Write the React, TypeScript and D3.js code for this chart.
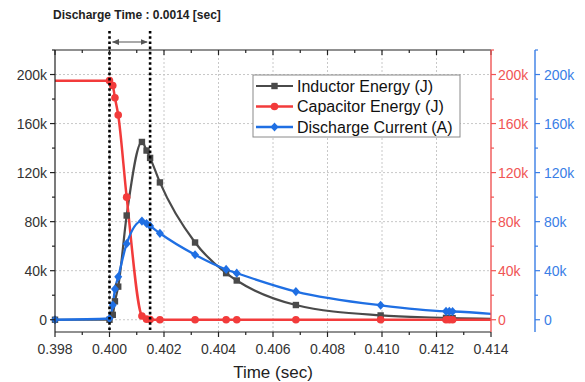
import React from "react";
import * as d3 from "d3";

const times = [0.398, 0.4, 0.40012, 0.4002, 0.40032, 0.40063, 0.40119, 0.40136, 0.40149, 0.40185, 0.40314, 0.40428, 0.40467, 0.40684, 0.40995, 0.41235, 0.41247, 0.41259, 0.415];
const capacitorTimes = [0.397, 0.4, 0.40012, 0.4002, 0.40032, 0.40063, 0.40119, 0.40136, 0.40149, 0.40185, 0.40314, 0.40428, 0.40467, 0.40684, 0.40995, 0.41235, 0.41247, 0.41259, 0.415];
const inductorEnergy = [0, 0, 4000, 15000, 27000, 85000, 145000, 138000, 132000, 112000, 63000, 38000, 32000, 12000, 3500, 1500, 1400, 1300, 600];
const capacitorEnergy = [195000, 195000, 191000, 181000, 167000, 100000, 3000, 500, 200, 0, 0, 0, 0, 0, 0, 0, 0, 0, 0];
const dischargeCurrent = [0, 1000, 12000, 25000, 35000, 62000, 80500, 78500, 76500, 70500, 53000, 41000, 38000, 23000, 11800, 6900, 6800, 6700, 3000];

const xTicks = [0.398, 0.4, 0.402, 0.404, 0.406, 0.408, 0.41, 0.412, 0.414];
const xMinor = [0.399, 0.401, 0.403, 0.405, 0.407, 0.409, 0.411, 0.413];
const yTicks = [0, 40000, 80000, 120000, 160000, 200000];
const yMinor = [20000, 60000, 100000, 140000, 180000, 220000];
const dischargeStart = 0.4;
const dischargeEnd = 0.40149;

const seriesNames = ["Inductor Energy (J)", "Capacitor Energy (J)", "Discharge Current (A)"];
const GRAY = "#4a4a4a";
const RED = "#f23b3b";
const BLUE = "#1f6fe3";
const RED_AXIS = "#f05555";
const BLUE_AXIS = "#3a7ee6";

const W = 585, H = 382;
const L = 55, R = 491, T = 50, B = 332;
const BLUE_X = 535;
const FONT = "'Liberation Sans', Arial, sans-serif";

const fmt = (v: number) => (v === 0 ? "0" : `${v / 1000}k`);

function Marker({ kind, x, y, color }: { kind: number; x: number; y: number; color: string }) {
  if (kind === 0) return <rect x={x - 3.2} y={y - 3.2} width={6.4} height={6.4} fill={color} />;
  if (kind === 1) return <circle cx={x} cy={y} r={3.8} fill={color} />;
  return <path d={`M${x},${y - 4.6}L${x + 4},${y}L${x},${y + 4.6}L${x - 4},${y}Z`} fill={color} />;
}

export default function App() {
  const x = d3.scaleLinear().domain([0.398, 0.414]).range([L, R]);
  const y = d3.scaleLinear().domain([-10000, 220000]).range([B, T]);
  const series = [
    { ts: times, vals: inductorEnergy, color: GRAY, kind: 0, w: 2.2 },
    { ts: capacitorTimes, vals: capacitorEnergy, color: RED, kind: 1, w: 2.5 },
    { ts: times, vals: dischargeCurrent, color: BLUE, kind: 2, w: 2.3 },
  ];
  const xs = x.domain();
  const arrowY = 42;

  return (
    <svg width={W} height={H} style={{ position: "absolute", left: 0, top: 0, background: "#fff" }} fontFamily={FONT}>
      <defs>
        <clipPath id="plot">
          <rect x={L} y={T} width={R - L} height={B - T} />
        </clipPath>
        <marker id="ah" viewBox="0 0 10 10" refX={9} refY={5} markerWidth={6} markerHeight={6} orient="auto-start-reverse">
          <path d="M0,1L10,5L0,9Z" fill="#555" />
        </marker>
      </defs>
      <text x={53} y={19} fontSize={12} fontWeight="bold" fill="#222">Discharge Time : 0.0014 [sec]</text>

      {/* grid */}
      {xTicks.filter((t) => t > xs[0] && t < xs[1]).map((t) => (
        <line key={"gx" + t} x1={x(t)} x2={x(t)} y1={T} y2={B} stroke="#c8c8c8" strokeWidth={1} strokeDasharray="2,2" />
      ))}
      {yTicks.map((t) => (
        <line key={"gy" + t} x1={L} x2={R} y1={y(t)} y2={y(t)} stroke="#c8c8c8" strokeWidth={1} strokeDasharray="2,2" />
      ))}

      {/* series */}
      <g clipPath="url(#plot)">
        {series.map((s, i) => {
          const line = d3
            .line<number>()
            .x((_, j) => x(s.ts[j]))
            .y((d) => y(d))
            .curve(d3.curveMonotoneX);
          return <path key={i} d={line(s.vals) || ""} fill="none" stroke={s.color} strokeWidth={s.w} />;
        })}
      </g>
      {series.map((s, i) => (
        <g key={"m" + i}>
          {s.vals.map((v, j) =>
            s.ts[j] >= xs[0] && s.ts[j] <= xs[1] ? (
              <Marker key={j} kind={s.kind} x={x(s.ts[j])} y={y(v)} color={s.color} />
            ) : null
          )}
        </g>
      ))}

      {/* discharge markers */}
      {[dischargeStart, dischargeEnd].map((t) => (
        <line key={"d" + t} x1={x(t)} x2={x(t)} y1={31} y2={B} stroke="#000" strokeWidth={2.6} strokeDasharray="2.6,2.6" />
      ))}
      <line x1={x(dischargeStart) + 3} x2={x(dischargeEnd) - 3} y1={arrowY} y2={arrowY} stroke="#555" strokeWidth={1.2}
        markerStart="url(#ah)" markerEnd="url(#ah)" />

      {/* frame */}
      <line x1={L} x2={R} y1={T} y2={T} stroke="#222" strokeWidth={1.2} />
      <line x1={L} x2={R} y1={B} y2={B} stroke="#222" strokeWidth={1.2} />
      <line x1={L} x2={L} y1={T} y2={B} stroke="#222" strokeWidth={1.2} />

      {/* x axis ticks */}
      {xTicks.map((t) => (
        <g key={"xt" + t}>
          <line x1={x(t)} x2={x(t)} y1={B} y2={B + 5} stroke="#222" strokeWidth={1.2} />
          <line x1={x(t)} x2={x(t)} y1={T} y2={T + 5} stroke="#222" strokeWidth={1.2} />
          <text x={x(t)} y={354} fontSize={14} textAnchor="middle" fill="#333">{t.toFixed(3)}</text>
        </g>
      ))}
      {xMinor.map((t) => (
        <g key={"xm" + t}>
          <line x1={x(t)} x2={x(t)} y1={B} y2={B + 3} stroke="#222" strokeWidth={1.2} />
          <line x1={x(t)} x2={x(t)} y1={T} y2={T + 3} stroke="#222" strokeWidth={1.2} />
        </g>
      ))}
      <text x={(L + R) / 2} y={378} fontSize={17} textAnchor="middle" fill="#222">Time (sec)</text>

      {/* left axis */}
      {yTicks.map((t) => (
        <g key={"yl" + t}>
          <line x1={L - 5} x2={L} y1={y(t)} y2={y(t)} stroke="#222" strokeWidth={1.2} />
          <text x={47} y={y(t) + 5} fontSize={14} textAnchor="end" fill="#333">{fmt(t)}</text>
        </g>
      ))}
      {yMinor.map((t) => (
        <line key={"ylm" + t} x1={L - 3} x2={L} y1={y(t)} y2={y(t)} stroke="#222" strokeWidth={1.2} />
      ))}

      {/* right red axis */}
      <line x1={R} x2={R} y1={T} y2={B} stroke={RED_AXIS} strokeWidth={1.4} />
      {yTicks.map((t) => (
        <g key={"yr" + t}>
          <line x1={R} x2={R + 5} y1={y(t)} y2={y(t)} stroke={RED_AXIS} strokeWidth={1.2} />
          <text x={498} y={y(t) + 5} fontSize={14} fill={RED_AXIS}>{fmt(t)}</text>
        </g>
      ))}
      {yMinor.map((t) => (
        <line key={"yrm" + t} x1={R} x2={R + 3} y1={y(t)} y2={y(t)} stroke={RED_AXIS} strokeWidth={1.2} />
      ))}

      {/* right blue axis */}
      <line x1={BLUE_X} x2={BLUE_X} y1={T} y2={B} stroke={BLUE_AXIS} strokeWidth={1.4} />
      {yTicks.map((t) => (
        <g key={"yb" + t}>
          <line x1={BLUE_X} x2={BLUE_X + 5} y1={y(t)} y2={y(t)} stroke={BLUE_AXIS} strokeWidth={1.2} />
          <text x={544} y={y(t) + 5} fontSize={14} fill={BLUE_AXIS}>{fmt(t)}</text>
        </g>
      ))}
      {yMinor.map((t) => (
        <line key={"ybm" + t} x1={BLUE_X} x2={BLUE_X + 3} y1={y(t)} y2={y(t)} stroke={BLUE_AXIS} strokeWidth={1.2} />
      ))}

      {/* legend */}
      <g>
        <rect x={253} y={75} width={207} height={62} fill="#fff" stroke="#8a8a8a" strokeWidth={1} />
        {series.map((s, i) => {
          const cy = 86 + i * 20.5;
          return (
            <g key={"lg" + i}>
              <line x1={256} x2={293} y1={cy} y2={cy} stroke={s.color} strokeWidth={s.w} />
              <Marker kind={s.kind} x={274.5} y={cy} color={s.color} />
              <text x={297} y={cy + 5.5} fontSize={16} fill="#111">{seriesNames[i]}</text>
            </g>
          );
        })}
      </g>
    </svg>
  );
}
